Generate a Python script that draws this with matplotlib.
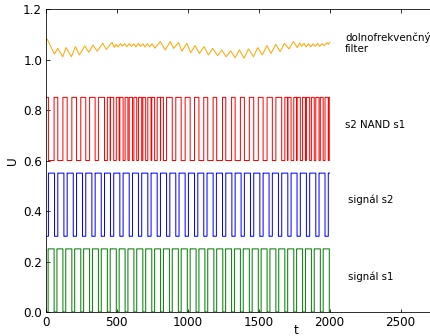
import numpy as np
import matplotlib
matplotlib.use("Agg")
import matplotlib.pyplot as plt

# square waves: times where the signal drops to low / comes back up
s1_down = [0, 60, 122, 185, 248, 310, 372, 435, 498, 560, 622, 685, 748, 810, 872, 935,
           998, 1060, 1122, 1185, 1248, 1310, 1372, 1435, 1498, 1560, 1622, 1685, 1748,
           1810, 1872, 1935, 1998]
s1_up = [18, 80, 142, 205, 268, 330, 392, 455, 518, 580, 642, 705, 768, 830, 892, 955,
         1018, 1080, 1142, 1205, 1268, 1330, 1392, 1455, 1518, 1580, 1642, 1705, 1768,
         1830, 1892, 1955, 2018]

s2_down = [0, 63, 129, 195, 260, 326, 392, 457, 523, 589, 654, 720, 786, 852, 917, 983,
           1049, 1114, 1180, 1246, 1312, 1377, 1443, 1509, 1574, 1640, 1706, 1771, 1837,
           1903, 1968]
s2_up = [20, 86, 152, 218, 283, 349, 415, 480, 546, 612, 677, 743, 809, 875, 940, 1006,
         1072, 1137, 1203, 1269, 1335, 1400, 1466, 1532, 1597, 1663, 1729, 1794, 1860,
         1926, 1991]

# low-pass filter output (peaks / troughs)
filt_t = [0, 12, 62, 86, 121, 144, 182, 210, 238, 276, 304, 334, 363, 403, 428, 468, 484,
          496, 510, 528, 540, 556, 572, 590, 604, 622, 636, 654, 668, 686, 700, 718, 732,
          750, 770, 808, 843, 878, 901, 937, 960, 995, 1022, 1053, 1083, 1116, 1147, 1177,
          1212, 1241, 1271, 1304, 1335, 1365, 1398, 1429, 1464, 1494, 1527, 1558, 1588,
          1621, 1652, 1682, 1715, 1745, 1773, 1790, 1803, 1820, 1835, 1852, 1866, 1884,
          1898, 1916, 1930, 1948, 1962, 1980, 1992, 2000]
filt_v = [1.077, 1.08, 1.022, 1.044, 1.011, 1.047, 1.011, 1.051, 1.018, 1.054, 1.029, 1.057,
          1.033, 1.064, 1.04, 1.068, 1.048,
          1.06, 1.05, 1.063, 1.053, 1.062, 1.051, 1.063, 1.052, 1.062, 1.05, 1.064, 1.052,
          1.062, 1.05, 1.063, 1.05, 1.062, 1.045,
          1.071, 1.038, 1.071, 1.044, 1.067, 1.033, 1.064, 1.027, 1.055, 1.024, 1.051,
          1.018, 1.044, 1.015, 1.038, 1.011, 1.034, 1.007, 1.038, 1.005, 1.042, 1.011,
          1.047, 1.018, 1.055, 1.024, 1.06, 1.031, 1.064, 1.042, 1.071, 1.047,
          1.066, 1.052, 1.064, 1.05, 1.063, 1.05, 1.062, 1.052, 1.064, 1.052, 1.063, 1.055,
          1.066, 1.06, 1.068]

labels = ["dolnofrekvenčný\nfilter", "s2 NAND s1", "signál s2", "signál s1"]
label_y = [1.065, 0.74, 0.443, 0.139]
label_x = [2109, 2109, 2130, 2130]


def is_high(t, down, up):
    high = np.ones_like(t, dtype=bool)
    for d, u in zip(down, up):
        high[(t >= d) & (t < u)] = False
    return high


t = np.arange(0, 2000.5, 0.5)
g1 = is_high(t, s1_down, s1_up)
g2 = is_high(t, s2_down, s2_up)
nand = ~(g1 & g2)

plt.rcParams['font.size'] = 12
fig = plt.figure(figsize=(430 / 72, 336 / 72), dpi=72)
# the axes run past the right edge of the picture (the original was cut there)
ax = fig.add_axes([0.106, 0.0714, 1.164, 0.9018])

ax.plot(t, 0.25 * g1, color='green', lw=1, drawstyle='steps-post')
ax.plot(t, 0.3 + 0.25 * g2, color='blue', lw=1, drawstyle='steps-post')
ax.plot(t, 0.6 + 0.25 * nand, color='red', lw=1, drawstyle='steps-post')
ax.plot(filt_t, filt_v, color='orange', lw=1)

for txt, x, y in zip(labels, label_x, label_y):
    ax.text(x, y, txt, ha='left', va='center', fontsize=10.3)

ax.set_xlim(0, 3525)
ax.set_ylim(0, 1.2)
ax.set_xticks([0, 500, 1000, 1500, 2000, 2500])
ax.set_yticks([0.0, 0.2, 0.4, 0.6, 0.8, 1.0, 1.2])
ax.tick_params(direction='in', top=True, right=True)
ax.set_xlabel('t', labelpad=-5)
ax.set_ylabel('U')

fig.savefig('out.png', dpi=72)
